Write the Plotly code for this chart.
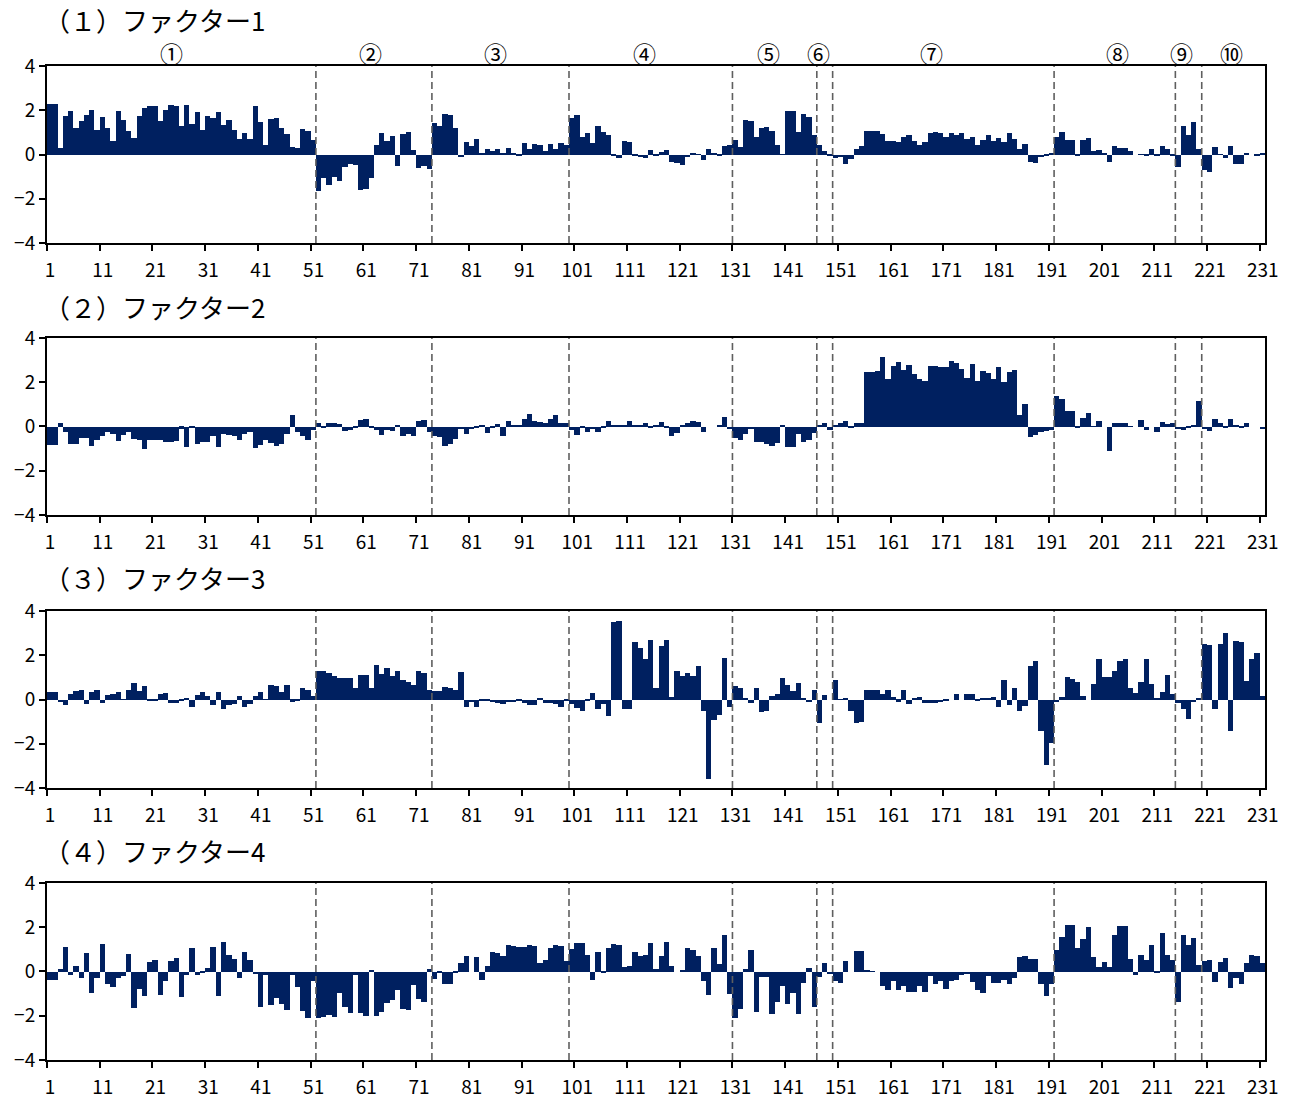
import plotly.graph_objects as go

# ---- data -------------------------------------------------------------
cats = list(range(1, 232))

factor1 = [
    2.30, 2.30, 0.30, 1.76, 1.96, 1.22, 1.50, 1.80, 2.00, 1.13,
    1.70, 1.22, 0.63, 1.96, 1.55, 1.08, 0.75, 1.72, 2.10, 2.20,
    2.20, 1.50, 1.99, 2.23, 2.21, 1.30, 2.23, 1.39, 1.90, 1.10,
    1.75, 1.63, 1.90, 1.33, 1.54, 1.10, 0.68, 0.95, 0.68, 2.18,
    1.46, 0.45, 1.60, 1.63, 1.19, 0.92, 0.32, 0.30, 1.17, 1.07,
    0.65, -1.63, -1.05, -1.36, -1.00, -1.20, -0.57, -0.45, -0.48, -1.60,
    -1.55, -1.07, 0.42, 0.98, 0.63, 0.84, -0.50, 0.93, 1.00, 0.20,
    -0.60, -0.53, -0.65, 1.43, 1.27, 1.85, 1.78, 1.19, -0.10, 0.57,
    0.38, 0.72, 0.08, 0.23, 0.17, 0.24, 0.06, 0.29, 0.05, -0.03,
    0.53, 0.23, 0.48, 0.44, 0.18, 0.47, 0.23, 0.50, 0.42, 1.63,
    1.78, 0.77, 0.95, 0.53, 1.28, 1.02, 0.87, -0.06, -0.14, 0.62,
    0.56, -0.08, -0.10, -0.14, 0.20, -0.03, 0.12, 0.20, -0.33, -0.38,
    -0.48, -0.10, 0.03, 0.02, -0.23, 0.23, 0.05, -0.06, 0.38, 0.45,
    0.65, 0.32, 1.55, 1.50, 0.81, 1.20, 1.23, 1.05, 0.45, 0.01,
    1.96, 1.96, 1.02, 1.85, 1.70, 0.86, 0.45, 0.17, -0.08, -0.15,
    -0.10, -0.42, -0.21, 0.27, 0.40, 1.06, 1.07, 1.08, 0.92, 0.62,
    0.62, 0.57, 0.80, 0.90, 0.62, 0.42, 0.57, 0.96, 1.00, 0.95,
    0.77, 0.96, 0.86, 0.96, 0.69, 0.81, 0.44, 0.65, 0.86, 0.60,
    0.74, 0.57, 0.96, 0.68, 0.23, 0.47, -0.32, -0.40, -0.10, -0.08,
    0.06, 0.80, 1.00, 0.65, 0.65, -0.05, 0.65, 0.75, 0.15, 0.20,
    0.05, -0.35, 0.40, 0.30, 0.30, 0.17, 0.00, 0.02, -0.05, 0.24,
    -0.08, 0.40, 0.24, -0.06, -0.57, 1.31, 0.86, 1.49, 0.24, -0.69,
    -0.81, 0.33, -0.02, -0.14, 0.40, -0.44, -0.45, 0.09, 0.00, -0.03,
    0.08,
]

factor2 = [
    -0.84, -0.84, 0.14, -0.26, -0.81, -0.81, -0.53, -0.50, -0.90, -0.63,
    -0.42, -0.23, -0.35, -0.65, -0.40, -0.23, -0.56, -0.60, -1.00, -0.60,
    -0.60, -0.60, -0.72, -0.68, -0.66, -0.09, -0.93, -0.08, -0.80, -0.69,
    -0.68, -0.44, -0.93, -0.33, -0.38, -0.45, -0.62, -0.36, -0.23, -0.96,
    -0.83, -0.62, -0.74, -0.87, -0.78, -0.33, 0.50, -0.24, -0.42, -0.60,
    -0.17, 0.14, -0.03, 0.15, 0.14, 0.10, -0.20, -0.17, -0.08, 0.29,
    0.32, -0.03, -0.15, -0.40, -0.17, -0.21, 0.06, -0.42, -0.33, -0.42,
    0.24, 0.30, -0.24, -0.44, -0.47, -0.89, -0.81, -0.57, -0.10, -0.35,
    -0.10, -0.08, 0.06, -0.30, -0.08, 0.12, -0.42, 0.27, 0.04, 0.05,
    0.35, 0.56, 0.26, 0.20, 0.17, 0.35, 0.53, 0.17, 0.15, -0.17,
    -0.38, -0.08, -0.27, -0.10, -0.23, -0.03, 0.23, 0.06, 0.06, 0.09,
    0.26, 0.08, 0.06, 0.17, -0.03, 0.09, 0.21, -0.08, -0.42, -0.29,
    0.06, 0.14, 0.26, 0.20, -0.23, 0.00, 0.00, 0.08, 0.42, -0.10,
    -0.53, -0.59, -0.35, -0.10, -0.68, -0.71, -0.78, -0.87, -0.75, 0.09,
    -0.93, -0.93, -0.33, -0.68, -0.63, -0.30, 0.09, 0.18, -0.17, 0.08,
    0.18, 0.23, -0.05, 0.15, 0.15, 2.45, 2.45, 2.50, 3.14, 2.17,
    2.72, 2.90, 2.54, 2.77, 2.38, 2.17, 2.06, 2.74, 2.74, 2.68,
    2.71, 2.97, 2.89, 2.61, 2.18, 2.82, 2.06, 2.50, 2.42, 2.14,
    2.68, 2.02, 2.48, 2.56, 0.51, 1.02, -0.47, -0.39, -0.27, -0.18,
    -0.17, 1.40, 1.25, 0.72, 0.71, -0.03, 0.38, 0.62, 0.02, 0.24,
    0.00, -1.10, 0.18, 0.15, 0.17, -0.02, 0.00, 0.30, -0.14, 0.00,
    -0.24, 0.21, 0.11, 0.18, -0.10, -0.14, -0.03, 0.06, 1.14, -0.12,
    -0.20, 0.35, 0.17, -0.05, 0.33, 0.06, -0.06, 0.14, 0.00, 0.00,
    -0.12,
]

factor3 = [
    0.32, 0.32, -0.10, -0.24, 0.23, 0.38, 0.45, -0.21, 0.35, 0.45,
    -0.17, 0.20, 0.23, 0.32, 0.01, 0.41, 0.74, 0.39, 0.63, -0.05,
    -0.05, 0.23, 0.30, -0.15, -0.15, -0.06, 0.09, -0.32, 0.20, 0.32,
    0.15, -0.23, 0.32, -0.45, -0.23, -0.18, 0.14, -0.36, -0.21, 0.15,
    0.32, 0.02, 0.66, 0.63, 0.36, 0.65, -0.09, -0.08, 0.51, 0.41,
    0.17, 1.31, 1.28, 1.22, 1.07, 0.96, 0.96, 0.95, 0.53, 1.13,
    1.13, 0.51, 1.58, 1.17, 1.42, 1.08, 1.31, 0.90, 0.80, 0.66,
    1.27, 1.22, 0.44, 0.39, 0.38, 0.56, 0.50, 0.45, 1.25, -0.33,
    -0.10, -0.32, -0.03, -0.08, -0.12, -0.17, -0.21, -0.12, -0.12, -0.05,
    -0.15, -0.24, -0.23, 0.05, -0.17, -0.17, -0.20, -0.35, -0.03, -0.18,
    -0.39, -0.53, -0.03, 0.29, -0.45, -0.21, -0.75, 3.50, 3.57, -0.42,
    -0.45, 2.59, 2.35, 1.82, 2.67, 0.50, 2.41, 2.67, 0.11, 1.28,
    1.07, 1.19, 1.05, 1.50, -0.53, -3.61, -0.92, -0.71, 1.87, -0.32,
    0.63, 0.51, 0.08, -0.17, 0.50, -0.57, -0.54, 0.15, 0.24, 0.96,
    0.65, 0.39, 0.74, 0.08, -0.12, 0.42, -1.07, 0.20, 0.00, 0.87,
    0.02, 0.09, -0.51, -1.04, -1.02, 0.45, 0.44, 0.44, 0.26, 0.45,
    0.10, -0.09, 0.41, -0.20, 0.08, 0.11, -0.15, -0.15, -0.14, -0.10,
    -0.03, 0.00, 0.24, 0.00, 0.23, 0.27, -0.08, 0.03, 0.03, 0.12,
    -0.36, 0.86, -0.24, 0.54, -0.53, -0.29, 1.52, 1.76, -1.43, -2.94,
    -1.96, -0.10, 0.11, 1.00, 0.93, 0.80, 0.14, 0.00, 0.72, 1.85,
    1.02, 1.02, 1.28, 1.76, 1.81, 0.51, 0.29, 0.81, 1.81, 0.68,
    0.03, 0.36, 1.11, 0.27, -0.17, -0.44, -0.90, -0.10, 0.06, 2.50,
    2.45, -0.45, 2.51, 3.01, -1.43, 2.65, 2.60, 0.83, 1.84, 2.12,
    0.15,
]

factor4 = [
    -0.40, -0.40, 0.13, 1.09, -0.17, 0.23, -0.28, 0.84, -0.98, -0.28,
    1.23, -0.55, -0.72, -0.31, -0.22, 0.81, -1.67, -0.78, -1.12, 0.41,
    0.52, -1.05, -0.43, 0.47, 0.62, -1.14, -0.16, 1.08, -0.14, -0.08,
    0.16, 1.10, -1.12, 1.33, 0.76, 0.55, -0.31, 0.90, 0.50, -0.10,
    -1.62, -0.16, -1.51, -1.20, -1.48, -1.74, -0.16, -0.69, -1.77, -2.09,
    -0.41, -2.09, -2.06, -1.95, -2.04, -0.96, -1.59, -1.88, -0.16, -1.88,
    -2.00, 0.04, -2.00, -1.84, -1.42, -1.29, -0.82, -1.69, -1.74, -0.62,
    -1.24, -1.37, 0.11, -0.32, -0.07, -0.56, -0.56, -0.05, 0.40, 0.68,
    0.00, 0.64, -0.37, 0.26, 0.90, 0.84, 0.72, 1.18, 1.14, 1.12,
    1.11, 1.20, 1.14, 0.40, 0.53, 1.08, 1.18, 1.14, 0.46, 1.02,
    1.30, 1.30, 0.73, -0.37, 0.90, -0.08, 1.06, 1.23, 1.18, 0.19,
    0.26, 0.87, 0.72, 0.75, 1.30, 0.13, 0.72, 1.33, 0.23, 0.00,
    0.07, 1.05, 0.96, 0.68, -0.44, -1.05, 1.08, 0.35, 1.66, -1.02,
    -2.08, -1.68, 0.13, 0.96, -1.83, -0.23, -0.26, -1.90, -1.38, -0.64,
    -1.45, -0.97, -1.93, -0.52, 0.14, -1.62, -0.23, 0.37, -0.10, -0.44,
    -0.53, 0.46, 0.00, 0.91, 0.91, 0.03, 0.02, 0.00, -0.67, -0.82,
    -0.41, -0.85, -0.64, -0.92, -0.92, -0.67, -0.92, -0.20, -0.55, -0.41,
    -0.79, -0.45, -0.37, -0.17, -0.10, -0.49, -0.85, -0.96, -0.20, -0.50,
    -0.50, -0.37, -0.56, -0.29, 0.67, 0.71, 0.55, 0.55, -0.55, -1.11,
    -0.58, 0.96, 1.57, 2.10, 2.10, 1.08, 1.47, 2.00, 0.65, 0.19,
    0.43, 0.19, 1.65, 2.07, 2.04, 0.56, -0.17, 0.75, 0.53, 1.21,
    -0.05, 1.74, 0.73, 0.50, -1.39, 1.66, 1.18, 1.51, 0.29, 0.46,
    0.50, -0.47, 0.41, 0.61, -0.76, -0.31, -0.56, 0.40, 0.76, 0.70,
    0.40,
]

panel_titles = ["（１）ファクター1", "（２）ファクター2",
                "（３）ファクター3", "（４）ファクター4"]
series = [factor1, factor2, factor3, factor4]

tick_cats = list(range(1, 232, 10))
y_ticks = [-4, -2, 0, 2, 4]
y_ticktext = ["−4", "−2", "0", "2", "4"]

# group boundaries (between categories) and group labels
group_bounds = [51.5, 73.5, 99.5, 130.5, 146.5, 149.5, 191.5, 214.5, 219.5]
group_labels = ["①", "②", "③", "④", "⑤", "⑥", "⑦", "⑧", "⑨", "⑩"]

# ---- layout constants ---------------------------------------------------
BAR_COLOR = "#002060"
FONT = "Noto Sans CJK JP"
W, H = 1290, 1101
M_L, M_R, M_T, M_B = 47, 25, 66, 41
label_x = [24.2, 61.9, 85.6, 113.9, 137.4, 146.9, 168.2, 203.5, 215.6, 225.1]
domains = [[0.8219, 1.0], [0.5483, 0.7264], [0.2736, 0.4517], [0.0, 0.1781]]
title_y = [1.0468, 0.758, 0.485, 0.211]

fig = go.Figure()
shapes = []
annotations = []

for k, (vals, dom) in enumerate(zip(series, domains)):
    n = "" if k == 0 else str(k + 1)
    fig.add_trace(go.Bar(
        x=cats, y=vals, width=1.0,
        marker=dict(color=BAR_COLOR, line=dict(width=0)),
        xaxis="x" + n, yaxis="y" + n, showlegend=False,
        hoverinfo="x+y",
    ))
    fig.layout["xaxis" + n] = dict(
        domain=[0, 1], anchor="y" + n, range=[0.5, 231.5],
        tickmode="array", tickvals=[c - 0.5 for c in tick_cats],
        ticktext=[str(c) for c in tick_cats], ticklabelshift=3,
        ticklabelstandoff=3, automargin=False,
        ticks="outside", ticklen=6, tickwidth=2, tickcolor="black",
        showline=True, linecolor="black", linewidth=2, mirror=True,
        showgrid=False, zeroline=False,
        tickfont=dict(family=FONT, size=19, color="black"),
    )
    fig.layout["yaxis" + n] = dict(
        domain=dom, anchor="x" + n, range=[-4, 4], automargin=False,
        tickmode="array", tickvals=y_ticks, ticktext=y_ticktext,
        ticks="outside", ticklen=6, tickwidth=2, tickcolor="black",
        showline=True, linecolor="black", linewidth=2, mirror=True,
        showgrid=False, zeroline=False,
        tickfont=dict(family=FONT, size=19, color="black"),
    )
    for b in group_bounds:
        shapes.append(dict(
            type="line", xref="x" + n, yref="y" + n + " domain",
            x0=b, x1=b, y0=0, y1=1,
            line=dict(color="#5f5f5f", width=1.6, dash="7px,4px"),
        ))
    annotations.append(dict(
        text=panel_titles[k], xref="paper", yref="paper",
        x=-0.004, y=title_y[k], xanchor="left", yanchor="middle",
        showarrow=False, font=dict(family=FONT, size=26, color="black"),
    ))

for lab, lx in zip(group_labels, label_x):
    annotations.append(dict(
        text=lab, xref="x", yref="paper", x=lx, y=1.013,
        xanchor="center", yanchor="middle", showarrow=False,
        font=dict(family=FONT, size=23, color="black"),
    ))

fig.update_layout(
    width=W, height=H,
    margin=dict(l=M_L, r=M_R, t=M_T, b=M_B, autoexpand=False),
    paper_bgcolor="white", plot_bgcolor="white",
    bargap=0, barmode="overlay",
    shapes=shapes, annotations=annotations,
    font=dict(family=FONT, color="black"),
)

fig.write_html("out.html")
